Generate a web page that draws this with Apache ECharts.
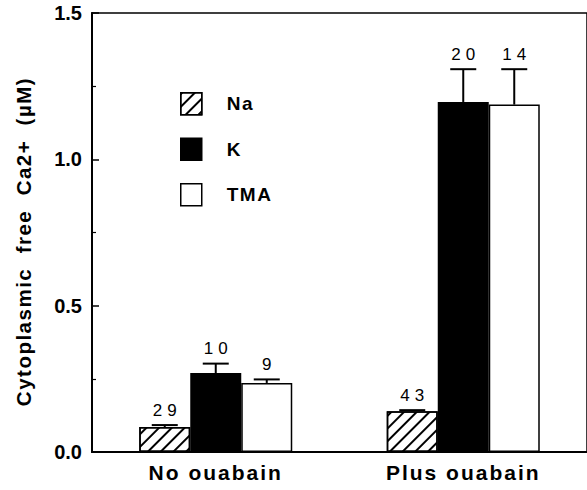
<!DOCTYPE html>
<html>
<head>
<meta charset="utf-8">
<script src="https://cdn.jsdelivr.net/npm/echarts@6/dist/echarts.min.js"></script>
<style>
  html, body { margin: 0; padding: 0; background: #fff; }
  #chart { width: 587px; height: 490px; }
  /* wide tracking for the typeset labels (SVG text inherits letter-spacing) */
  #chart text[style*="21px"] { letter-spacing: 2px; }
  #chart text[style*="17px"] { letter-spacing: 5px; }
  #chart text[style*="19px"] { letter-spacing: 1.5px; }
  #chart text[style*="20.5px"] { letter-spacing: 1.5px; }
</style>
</head>
<body>
<div id="chart"></div>
<script>
// Cytoplasmic free Ca2+ (µM) by bathing cation, without and with ouabain
const categories = ['No ouabain', 'Plus ouabain'];
const seriesNames = ['Na', 'K', 'TMA'];

const naValues = [0.085, 0.139];
const naErrors = [0.007, 0.004];
const naCounts = [29, 43];

const kValues = [0.270, 1.196];
const kErrors = [0.032, 0.112];
const kCounts = [10, 20];

const tmaValues = [0.236, 1.187];
const tmaErrors = [0.012, 0.121];
const tmaCounts = [9, 14];

const yTickLabels = ['0.0', '0.5', '1.0', '1.5'];

const FONT = 'Arial, "Liberation Sans", Helvetica, sans-serif';
const BAR_WIDTH = 51;
const CAP_HALF = 13;

const hatch = {
  symbol: 'rect',
  symbolSize: 1,
  color: '#000',
  backgroundColor: '#fff',
  dashArrayX: [1, 0],
  dashArrayY: [1.6, 6.2],
  rotation: -Math.PI / 4
};

function barSeries(name, values, itemStyle) {
  return {
    name: name,
    type: 'bar',
    data: values,
    barWidth: BAR_WIDTH,
    barGap: '0%',
    itemStyle: Object.assign({ borderColor: '#000', borderWidth: 1.5 }, itemStyle)
  };
}

// upward error bar with the sample count written above the cap
function errorSeries(slot, values, errors, counts) {
  return {
    type: 'custom',
    silent: true,
    z: 5,
    data: values.map((v, i) => [i, v, errors[i], counts[i]]),
    renderItem: function (params, api) {
      const cat = api.value(0);
      const v = api.value(1);
      const e = api.value(2);
      const n = api.value(3);
      const base = api.coord([cat, v]);
      const top = api.coord([cat, v + e]);
      const x = base[0] + (slot - 1) * BAR_WIDTH;
      return {
        type: 'group',
        children: [
          { type: 'line', shape: { x1: x, y1: base[1], x2: x, y2: top[1] },
            style: { stroke: '#000', lineWidth: 2 } },
          { type: 'line', shape: { x1: x - CAP_HALF, y1: top[1], x2: x + CAP_HALF, y2: top[1] },
            style: { stroke: '#000', lineWidth: 2 } },
          { type: 'text',
            style: { text: String(n), x: x + 2.5, y: top[1] - 15, align: 'center', verticalAlign: 'middle',
                     fontSize: 17, fontFamily: FONT, fill: '#000' } }
        ]
      };
    }
  };
}

const chart = echarts.init(document.getElementById('chart'), null, { renderer: 'svg' });

chart.setOption({
  animation: false,
  backgroundColor: '#fff',
  grid: { left: 92, top: 13, width: 498, bottom: 38, show: true, borderColor: '#000', borderWidth: 1.5 },
  legend: {
    data: seriesNames,
    orient: 'vertical',
    left: 175,
    top: 87,
    icon: 'rect',
    itemWidth: 21,
    itemHeight: 22,
    itemGap: 22,
    selectedMode: false,
    itemStyle: { borderColor: '#000', borderWidth: 1.5 },
    textStyle: { color: '#000', fontSize: 19, fontWeight: 'bold', fontFamily: FONT, padding: [0, 0, 0, 20] }
  },
  xAxis: {
    type: 'category',
    data: categories,
    boundaryGap: true,
    axisLine: { lineStyle: { color: '#000', width: 2 } },
    axisTick: { show: false },
    axisLabel: { color: '#000', fontSize: 21, fontWeight: 'bold', fontFamily: FONT, margin: 10 }
  },
  yAxis: {
    type: 'value',
    min: 0,
    max: 1.5,
    interval: 0.5,
    name: 'Cytoplasmic  free  Ca2+  (µM)',
    nameLocation: 'middle',
    nameGap: 58,
    nameTextStyle: { color: '#000', fontSize: 20.5, fontWeight: 'bold', fontFamily: FONT, padding: [0, 18, 0, 0] },
    axisLine: { show: true, lineStyle: { color: '#000', width: 2 } },
    axisTick: { show: true, inside: true, length: 7, lineStyle: { color: '#000', width: 1.5 } },
    minorTick: { show: true, splitNumber: 2, length: 4, lineStyle: { color: '#000', width: 1.2 } },
    splitLine: { show: false },
    axisLabel: {
      color: '#000', fontSize: 20, fontWeight: 'bold', fontFamily: FONT, margin: 10,
      formatter: function (v) { return yTickLabels[Math.round(v / 0.5)]; }
    }
  },
  series: [
    barSeries('Na', naValues, { color: '#fff', decal: hatch }),
    barSeries('K', kValues, { color: '#000' }),
    barSeries('TMA', tmaValues, { color: '#fff' }),
    errorSeries(0, naValues, naErrors, naCounts),
    errorSeries(1, kValues, kErrors, kCounts),
    errorSeries(2, tmaValues, tmaErrors, tmaCounts)
  ]
});
</script>
</body>
</html>
